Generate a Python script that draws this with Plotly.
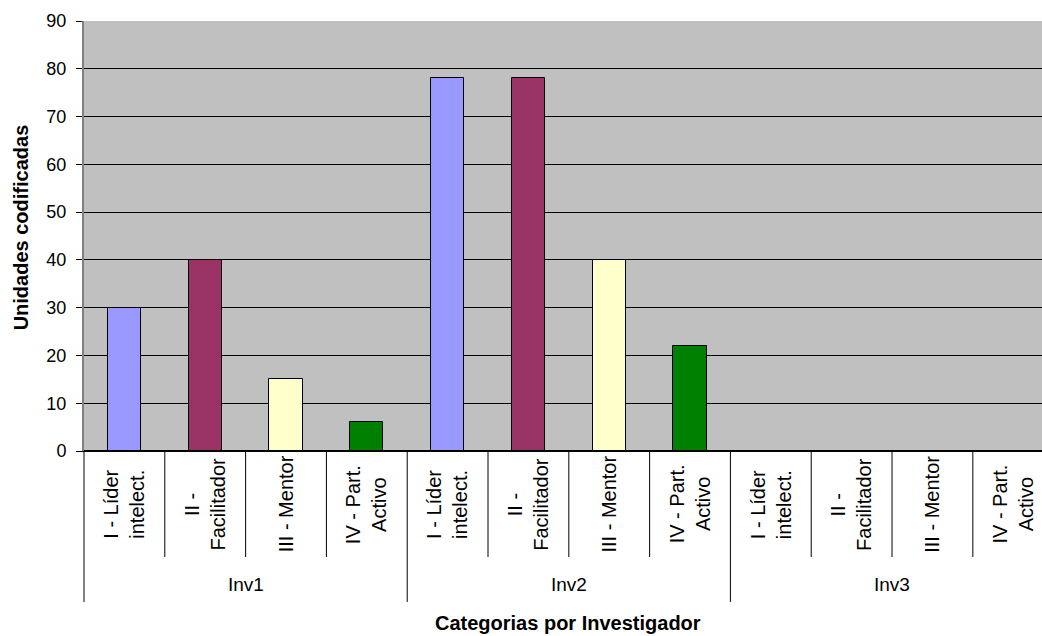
import plotly.graph_objects as go

# Investigators (outer category level) and coding categories (inner level)
investigators = ["Inv1", "Inv2", "Inv3"]
categories = ["I - Líder<br>intelect.", "II -<br>Facilitador", "III - Mentor", "IV - Part.<br>Activo"]

# Coded units per category, one list per investigator (Inv3 has no data)
inv1_values = [30, 40, 15, 6]
inv2_values = [78, 78, 40, 22]
inv3_values = [None, None, None, None]

category_colors = ["#9999FF", "#993366", "#FFFFCC", "#008000"]

y_ticks = [0, 10, 20, 30, 40, 50, 60, 70, 80, 90]

FONT = "Liberation Sans, Arial, sans-serif"

n_cat = len(categories)
all_values = inv1_values + inv2_values + inv3_values
positions = list(range(len(all_values)))
colors = category_colors * len(investigators)

fig = go.Figure()
fig.add_trace(go.Bar(
    x=positions,
    y=all_values,
    width=0.41,
    marker=dict(color=colors, line=dict(color="#000000", width=1)),
    showlegend=False,
    hoverinfo="y",
))

annotations = []
shapes = []

# Inner category labels, rotated
for i, pos in enumerate(positions):
    annotations.append(dict(
        x=pos, xref="x", y=-0.124, yref="paper",
        text=categories[i % n_cat], textangle=-90, showarrow=False,
        xanchor="center", yanchor="middle", align="center",
        font=dict(family=FONT, size=20, color="#000000"),
    ))

# Outer investigator labels, centred under each group
for g, name in enumerate(investigators):
    center = g * n_cat + (n_cat - 1) / 2
    annotations.append(dict(
        x=center, xref="x", y=-0.3116, yref="paper",
        text=name, showarrow=False, xanchor="center", yanchor="middle",
        font=dict(family=FONT, size=19, color="#000000"),
    ))

# Divider lines between categories and between groups
for pos in positions[1:]:
    boundary = pos - 0.5
    is_group = pos % n_cat == 0
    shapes.append(dict(
        type="line", xref="x", yref="paper",
        x0=boundary, x1=boundary, y0=0, y1=-0.351 if is_group else -0.2465,
        line=dict(color="#000000", width=1),
    ))
shapes.append(dict(
    type="line", xref="paper", yref="paper",
    x0=0, x1=0, y0=0, y1=-0.351,
    line=dict(color="#000000", width=1),
))

# Axis titles
annotations.append(dict(
    x=-0.0658, xref="paper", y=0.52, yref="paper",
    text="<b>Unidades codificadas</b>", textangle=-90, showarrow=False,
    xanchor="center", yanchor="middle",
    font=dict(family=FONT, size=20, color="#000000"),
))
annotations.append(dict(
    x=0.505, xref="paper", y=-0.40, yref="paper",
    text="<b>Categorias por Investigador</b>", showarrow=False,
    xanchor="center", yanchor="middle",
    font=dict(family=FONT, size=20, color="#000000"),
))

fig.update_layout(
    width=1042, height=636,
    margin=dict(l=84, r=0, t=21, b=185),
    paper_bgcolor="#FFFFFF",
    plot_bgcolor="#C0C0C0",
    bargap=0,
    annotations=annotations,
    shapes=shapes,
    font=dict(family=FONT, color="#000000"),
    xaxis=dict(
        range=[-0.5, 11.356],
        showticklabels=False, ticks="", showgrid=False, zeroline=False,
        showline=True, linecolor="#000000", linewidth=1,
    ),
    yaxis=dict(
        range=[0, 90], tickvals=y_ticks,
        ticks="outside", ticklen=6, tickcolor="#000000",
        ticklabelstandoff=6,
        tickfont=dict(family=FONT, size=18, color="#000000"),
        showgrid=True, gridcolor="#000000", gridwidth=1,
        zeroline=True, zerolinecolor="#000000",
        showline=True, linecolor="#808080", linewidth=2,
    ),
)

fig.write_html("out.html")
